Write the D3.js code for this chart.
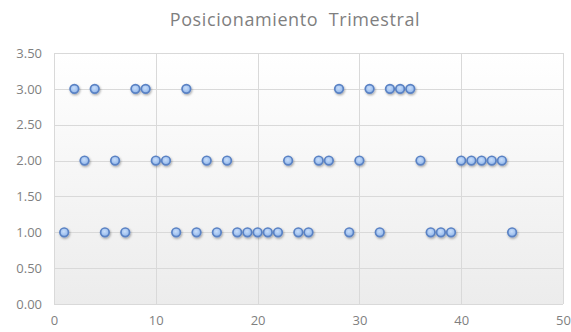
<!DOCTYPE html>
<html><head><meta charset="utf-8">
<script src="https://cdn.jsdelivr.net/npm/d3@7"></script>
<style>body{margin:0;background:#fff;} svg{display:block;font-family:"Open Sans",sans-serif;}</style>
</head><body>
<svg id="c" width="571" height="332"></svg>
<script>
const title = "Posicionamiento  Trimestral";
const xValues = [1,2,3,4,5,6,7,8,9,10,11,12,13,14,15,16,17,18,19,20,21,22,23,24,25,26,27,28,29,30,31,32,33,34,35,36,37,38,39,40,41,42,43,44,45];
const yValues = [1,3,2,3,1,2,1,3,3,2,2,1,3,1,2,1,2,1,1,1,1,1,2,1,1,2,2,3,1,2,3,1,3,3,3,2,1,1,1,2,2,2,2,2,1];
const xTicks = [0,10,20,30,40,50];
const yTicks = [0,0.5,1,1.5,2,2.5,3,3.5];

const svg = d3.select("#c");
const m = {l:54, r:563, t:53, b:304};
const x = d3.scaleLinear().domain([0,50]).range([m.l,m.r]);
const y = d3.scaleLinear().domain([0,3.5]).range([m.b,m.t]);

const defs = svg.append("defs");
const bg = defs.append("linearGradient").attr("id","bg").attr("x1",0).attr("y1",0).attr("x2",0).attr("y2",1);
bg.append("stop").attr("offset","0%").attr("stop-color","#ffffff");
bg.append("stop").attr("offset","100%").attr("stop-color","#ececec");
const mg = defs.append("radialGradient").attr("id","mk").attr("cx","45%").attr("cy","40%").attr("r","60%");
mg.append("stop").attr("offset","0%").attr("stop-color","#c9defa");
mg.append("stop").attr("offset","100%").attr("stop-color","#8fb5ea");
const f = defs.append("filter").attr("id","sh").attr("x","-50%").attr("y","-50%").attr("width","200%").attr("height","200%");
f.append("feDropShadow").attr("dx",0.8).attr("dy",1.2).attr("stdDeviation",0.9).attr("flood-color","#000").attr("flood-opacity",0.35);

svg.append("rect").attr("x",m.l).attr("y",m.t).attr("width",m.r-m.l).attr("height",m.b-m.t).attr("fill","url(#bg)");

svg.append("g").selectAll("line").data(yTicks).join("line")
  .attr("x1",m.l).attr("x2",m.r).attr("y1",d=>Math.round(y(d))+0.5).attr("y2",d=>Math.round(y(d))+0.5)
  .attr("stroke","#d9d9d9").attr("stroke-width",1);
svg.append("g").selectAll("line").data(xTicks).join("line")
  .attr("y1",m.t).attr("y2",m.b).attr("x1",d=>Math.round(x(d))+0.5).attr("x2",d=>Math.round(x(d))+0.5)
  .attr("stroke","#d9d9d9").attr("stroke-width",1);

const yAxis = svg.append("g").attr("transform",`translate(${m.l},0)`)
  .call(d3.axisLeft(y).tickValues(yTicks).tickFormat(d3.format(".2f")).tickSize(0).tickPadding(12));
const xAxis = svg.append("g").attr("transform",`translate(0,${m.b})`)
  .call(d3.axisBottom(x).tickValues(xTicks).tickFormat(d3.format("d")).tickSize(0).tickPadding(12));
[yAxis,xAxis].forEach(a=>{
  a.select(".domain").remove();
  a.selectAll("text").attr("fill","#7f7f7f").style("font-size","13px").style("font-family","'Open Sans',sans-serif");
});

svg.append("text").attr("x",295).attr("y",26).attr("text-anchor","middle")
  .attr("fill","#7f7f7f").style("font-size","18px").style("letter-spacing","0.6px")
  .style("white-space","pre").attr("xml:space","preserve").text(title);

svg.append("g").selectAll("circle").data(xValues.map((v,i)=>[v,yValues[i]])).join("circle")
  .attr("cx",d=>x(d[0])).attr("cy",d=>y(d[1])).attr("r",4.3)
  .attr("fill","url(#mk)").attr("stroke","#5a82c4").attr("stroke-width",1.7).attr("filter","url(#sh)");
</script>
</body></html>
